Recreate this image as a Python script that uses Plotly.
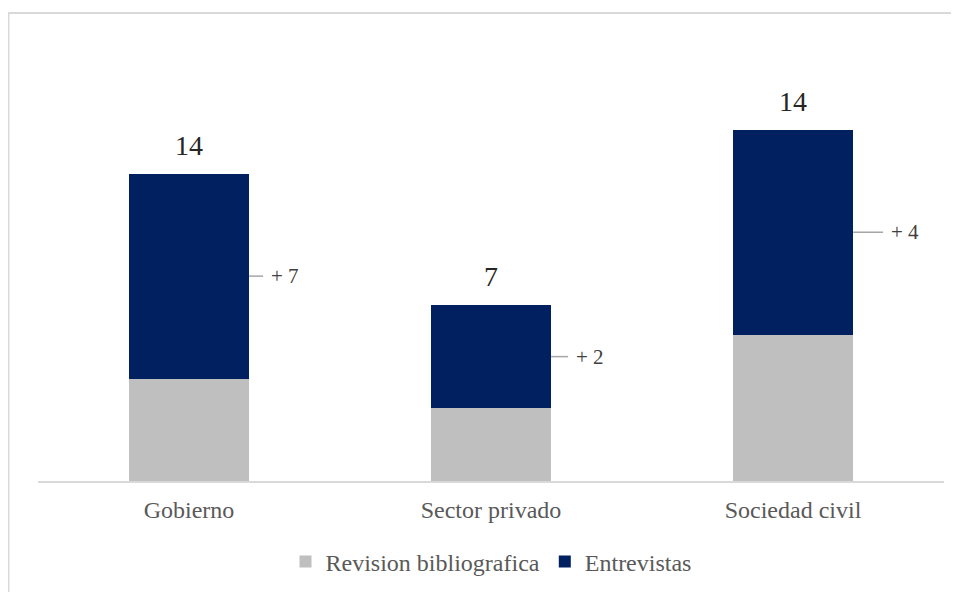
import plotly.graph_objects as go

categories = ["Gobierno", "Sector privado", "Sociedad civil"]
revision = [7, 5, 10]
entrevistas = [14, 7, 14]
increments = ["+ 7", "+ 2", "+ 4"]
leader_px = [14, 17, 30]

# page offset (body margin) compensation
OFF = 8
W, H = 959, 592
L = 38 - OFF
R = W - (944 - OFF)
T = 41.5 - OFF
B = H - (481 - OFF)
pw, ph = W - L - R, H - T - B
ymax = 30

def px_x(px):
    return (px - OFF - L) / pw

def px_y(py):
    return (H - B - (py - OFF)) / ph

fig = go.Figure()
fig.add_trace(go.Bar(name="Revision bibliografica", x=categories, y=revision,
                     marker_color="#BFBFBF", marker_line_width=0))
fig.add_trace(go.Bar(name="Entrevistas", x=categories, y=entrevistas,
                     marker_color="#002060", marker_line_width=0))

annotations = []
shapes = []
half = 0.199
cat_px = pw / 3
for i, c in enumerate(categories):
    total = revision[i] + entrevistas[i]
    annotations.append(dict(x=i, y=total, text=str(entrevistas[i]), showarrow=False,
                            yanchor="bottom", yshift=11,
                            font=dict(family="Liberation Serif", size=28, color="#262626")))
    mid = revision[i] + entrevistas[i] / 2
    lead = leader_px[i] / cat_px
    shapes.append(dict(type="line", xref="x", yref="y", x0=i + half, x1=i + half + lead,
                       y0=mid, y1=mid, line=dict(color="#A6A6A6", width=1.5)))
    annotations.append(dict(x=i + half + lead, y=mid, text=increments[i], showarrow=False,
                            xanchor="left", yanchor="middle", xshift=6,
                            font=dict(family="Liberation Serif", size=21, color="#404040")))

shapes.append(dict(type="rect", xref="paper", yref="paper",
                   x0=px_x(8.5), x1=px_x(975), y0=px_y(610), y1=px_y(12.5),
                   line=dict(color="#D9D9D9", width=2), layer="below"))

fig.update_layout(
    width=W, height=H,
    margin=dict(l=L, r=R, t=T, b=B),
    barmode="stack", bargap=0.6,
    plot_bgcolor="white", paper_bgcolor="white",
    font=dict(family="Liberation Serif", color="#595959"),
    showlegend=True,
    legend=dict(orientation="h", x=0.5, xanchor="center", y=px_y(562), yanchor="middle",
                font=dict(size=24, color="#595959"), traceorder="normal",
                itemwidth=30),
    annotations=annotations,
    shapes=shapes,
)
fig.update_xaxes(showline=True, linecolor="#D9D9D9", linewidth=1.5, showgrid=False,
                 tickfont=dict(size=24, color="#595959"), ticks="", ticklabelstandoff=6)
fig.update_yaxes(range=[0, ymax], visible=False, showgrid=False, zeroline=False)

fig.write_html("out.html")
